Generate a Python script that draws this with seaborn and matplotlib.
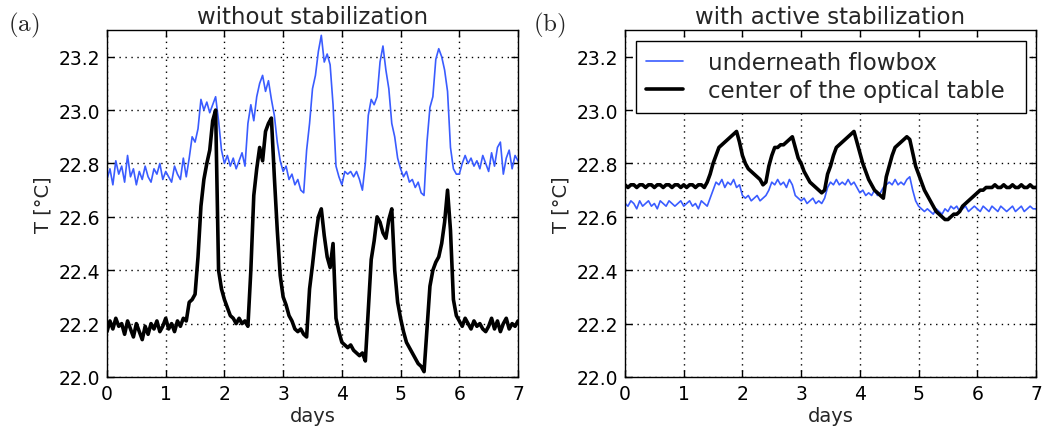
import numpy as np
import pandas as pd
import matplotlib
matplotlib.use("Agg")
import matplotlib.pyplot as plt
import seaborn as sns

# sampling grid (days)
days = np.round(np.arange(0, 141) * 0.05, 2)

# panel (a): without stabilization
a_flowbox = [
    22.74, 22.78, 22.72, 22.81, 22.76, 22.79, 22.73, 22.83, 22.75, 22.78, 22.72, 22.77, 22.74, 22.79, 22.75, 22.73, 22.78, 22.76, 22.80, 22.74,
    22.77, 22.75, 22.73, 22.79, 22.76, 22.74, 22.82, 22.75, 22.82, 22.90, 22.88, 22.93, 23.04, 23.00, 23.03, 22.99, 23.02, 23.05, 22.96, 22.85,
    22.80, 22.83, 22.79, 22.82, 22.78, 22.81, 22.84, 22.79, 22.95, 23.02, 22.96, 23.05, 23.10, 23.13, 23.07, 23.11, 23.04, 22.98, 22.88, 22.81,
    22.77, 22.79, 22.74, 22.76, 22.72, 22.74, 22.70, 22.69, 22.85, 22.95, 23.08, 23.13, 23.22, 23.28, 23.18, 23.21, 23.17, 23.02, 22.79, 22.75,
    22.72, 22.77, 22.76, 22.77, 22.75, 22.77, 22.74, 22.70, 22.80, 22.98, 23.04, 23.02, 23.05, 23.18, 23.24, 23.15, 23.08, 22.95, 22.90, 22.82,
    22.78, 22.75, 22.77, 22.73, 22.74, 22.71, 22.73, 22.69, 22.68, 22.88, 23.01, 23.05, 23.19, 23.23, 23.20, 23.15, 23.07, 22.86, 22.78, 22.76,
    22.76, 22.80, 22.83, 22.80, 22.82, 22.79, 22.81, 22.78, 22.83, 22.80, 22.77, 22.84, 22.79, 22.86, 22.88, 22.76, 22.82, 22.85, 22.78, 22.83,
    22.81,
]
a_table = [
    22.17, 22.21, 22.18, 22.22, 22.19, 22.20, 22.16, 22.21, 22.18, 22.15, 22.20, 22.17, 22.14, 22.19, 22.16, 22.20, 22.18, 22.21, 22.17, 22.19,
    22.22, 22.18, 22.20, 22.17, 22.21, 22.19, 22.22, 22.21, 22.28, 22.29, 22.31, 22.45, 22.64, 22.74, 22.80, 22.85, 22.96, 23.00, 22.40, 22.33,
    22.29, 22.26, 22.23, 22.22, 22.20, 22.22, 22.20, 22.21, 22.19, 22.40, 22.68, 22.78, 22.86, 22.81, 22.92, 22.95, 22.97, 22.75, 22.55, 22.38,
    22.30, 22.27, 22.23, 22.21, 22.18, 22.17, 22.18, 22.16, 22.15, 22.33, 22.42, 22.52, 22.60, 22.63, 22.53, 22.45, 22.41, 22.50, 22.22, 22.17,
    22.13, 22.12, 22.11, 22.12, 22.10, 22.09, 22.08, 22.09, 22.06, 22.25, 22.44, 22.51, 22.60, 22.58, 22.54, 22.52, 22.59, 22.63, 22.40, 22.28,
    22.22, 22.17, 22.13, 22.11, 22.09, 22.07, 22.05, 22.04, 22.02, 22.18, 22.34, 22.40, 22.43, 22.45, 22.50, 22.58, 22.70, 22.55, 22.29, 22.23,
    22.21, 22.19, 22.22, 22.20, 22.18, 22.21, 22.19, 22.20, 22.18, 22.17, 22.19, 22.22, 22.18, 22.21, 22.17, 22.20, 22.22, 22.18, 22.20, 22.19,
    22.21,
]

# panel (b): with active stabilization
b_flowbox = [
    22.65, 22.64, 22.66, 22.65, 22.63, 22.66, 22.64, 22.65, 22.66, 22.64, 22.65, 22.63, 22.66, 22.65, 22.64, 22.66, 22.65, 22.64, 22.65, 22.66,
    22.64, 22.65, 22.66, 22.64, 22.65, 22.63, 22.66, 22.65, 22.64, 22.67, 22.70, 22.73, 22.72, 22.74, 22.71, 22.73, 22.72, 22.74, 22.71, 22.72,
    22.68, 22.67, 22.68, 22.66, 22.67, 22.68, 22.66, 22.67, 22.68, 22.70, 22.73, 22.72, 22.74, 22.72, 22.73, 22.71, 22.74, 22.72, 22.68, 22.67,
    22.66, 22.67, 22.65, 22.66, 22.67, 22.65, 22.66, 22.65, 22.67, 22.71, 22.73, 22.72, 22.74, 22.72, 22.73, 22.72, 22.74, 22.72, 22.73, 22.71,
    22.69, 22.70, 22.68, 22.69, 22.68, 22.70, 22.68, 22.69, 22.71, 22.72, 22.73, 22.72, 22.74, 22.72, 22.73, 22.72, 22.74, 22.75, 22.70, 22.66,
    22.64, 22.63, 22.62, 22.63, 22.62, 22.61, 22.63, 22.62, 22.61, 22.63, 22.62, 22.64, 22.63, 22.64, 22.62, 22.63, 22.64, 22.62, 22.63, 22.64,
    22.63, 22.62, 22.64, 22.63, 22.62, 22.64, 22.63, 22.62, 22.64, 22.63, 22.62, 22.63, 22.64, 22.62, 22.63, 22.64, 22.62, 22.63, 22.64, 22.63,
    22.63,
]
b_table = [
    22.72, 22.71, 22.72, 22.72, 22.71, 22.72, 22.72, 22.71, 22.72, 22.72, 22.71, 22.72, 22.72, 22.71, 22.72, 22.72, 22.71, 22.72, 22.72, 22.71,
    22.72, 22.71, 22.72, 22.72, 22.71, 22.72, 22.72, 22.71, 22.73, 22.76, 22.80, 22.83, 22.86, 22.87, 22.88, 22.89, 22.90, 22.91, 22.92, 22.88,
    22.83, 22.80, 22.78, 22.77, 22.76, 22.75, 22.74, 22.72, 22.73, 22.79, 22.83, 22.86, 22.86, 22.87, 22.87, 22.88, 22.89, 22.90, 22.86, 22.82,
    22.80, 22.77, 22.75, 22.73, 22.72, 22.71, 22.70, 22.69, 22.70, 22.76, 22.79, 22.83, 22.86, 22.87, 22.88, 22.89, 22.90, 22.91, 22.92, 22.88,
    22.84, 22.80, 22.77, 22.74, 22.72, 22.70, 22.69, 22.68, 22.67, 22.75, 22.79, 22.83, 22.86, 22.87, 22.88, 22.89, 22.90, 22.89, 22.84, 22.79,
    22.76, 22.73, 22.70, 22.68, 22.66, 22.64, 22.62, 22.61, 22.60, 22.59, 22.59, 22.60, 22.61, 22.61, 22.62, 22.64, 22.65, 22.66, 22.67, 22.68,
    22.69, 22.70, 22.70, 22.71, 22.71, 22.71, 22.72, 22.71, 22.71, 22.72, 22.71, 22.71, 22.72, 22.71, 22.71, 22.72, 22.71, 22.71, 22.72, 22.71,
    22.71,
]

titles = ["without stabilization", "with active stabilization"]
panel_tags = ["(a)", "(b)"]
series_names = ["underneath flowbox", "center of the optical table"]
y_ticks = [22.0, 22.2, 22.4, 22.6, 22.8, 23.0, 23.2]
x_ticks = [0, 1, 2, 3, 4, 5, 6, 7]

for arr in (a_flowbox, a_table, b_flowbox, b_table):
    assert len(arr) == len(days)

sns.set_theme(style="white")
plt.rcParams["font.family"] = ["DejaVu Sans"]
plt.rcParams["mathtext.fontset"] = "cm"

BLUE = "#3a5cff"

fig = plt.figure(figsize=(10.44, 4.35), dpi=100)
ax_a = fig.add_axes([107 / 1044, 1 - 378 / 435, 411 / 1044, 347 / 435])
ax_b = fig.add_axes([625 / 1044, 1 - 378 / 435, 411 / 1044, 347 / 435])

panels = [(ax_a, a_flowbox, a_table), (ax_b, b_flowbox, b_table)]
for i, (ax, fb, tb) in enumerate(panels):
    sns.lineplot(x=days, y=fb, ax=ax, color=BLUE, linewidth=1.2, label=series_names[0])
    sns.lineplot(x=days, y=tb, ax=ax, color="black", linewidth=2.6, label=series_names[1])
    ax.set_xlim(0, 7)
    ax.set_ylim(22.0, 23.3)
    ax.set_xticks(x_ticks)
    ax.set_yticks(y_ticks)
    ax.set_xticklabels([str(t) for t in x_ticks], fontsize=13.5)
    ax.set_yticklabels([f"{t:.1f}" for t in y_ticks], fontsize=13.5)
    ax.set_xlabel("days", fontsize=14, labelpad=2)
    ax.set_ylabel("T [°C]", fontsize=14, labelpad=4)
    ax.set_title(titles[i], fontsize=16.5, pad=5)
    ax.grid(True, color="black", linestyle=(0, (1, 3.3)), linewidth=1.0)
    ax.tick_params(direction="in", length=5, width=1, top=True, right=True,
                   bottom=True, left=True, colors="black", pad=5)
    for sp in ax.spines.values():
        sp.set_color("black")
        sp.set_linewidth(1.0)
    if i == 0:
        ax.get_legend().remove()
    else:
        leg = ax.legend(loc="upper left", mode="expand", fontsize=16.5, frameon=True,
                        fancybox=False, edgecolor="black", handlelength=1.6,
                        borderpad=0.45, labelspacing=0.22, handletextpad=1.1,
                        borderaxespad=0.0,
                        bbox_to_anchor=(11 / 411, 0, 390 / 411, 1 - 11 / 347))
        leg.get_frame().set_linewidth(1.0)
        leg.get_frame().set_alpha(1.0)

fig.text(8 / 1044, 1 - 25 / 435, r"$\mathrm{(a)}$", fontsize=18, va="center", ha="left")
fig.text(533 / 1044, 1 - 25 / 435, r"$\mathrm{(b)}$", fontsize=18, va="center", ha="left")

fig.savefig("out.png", dpi=100)
